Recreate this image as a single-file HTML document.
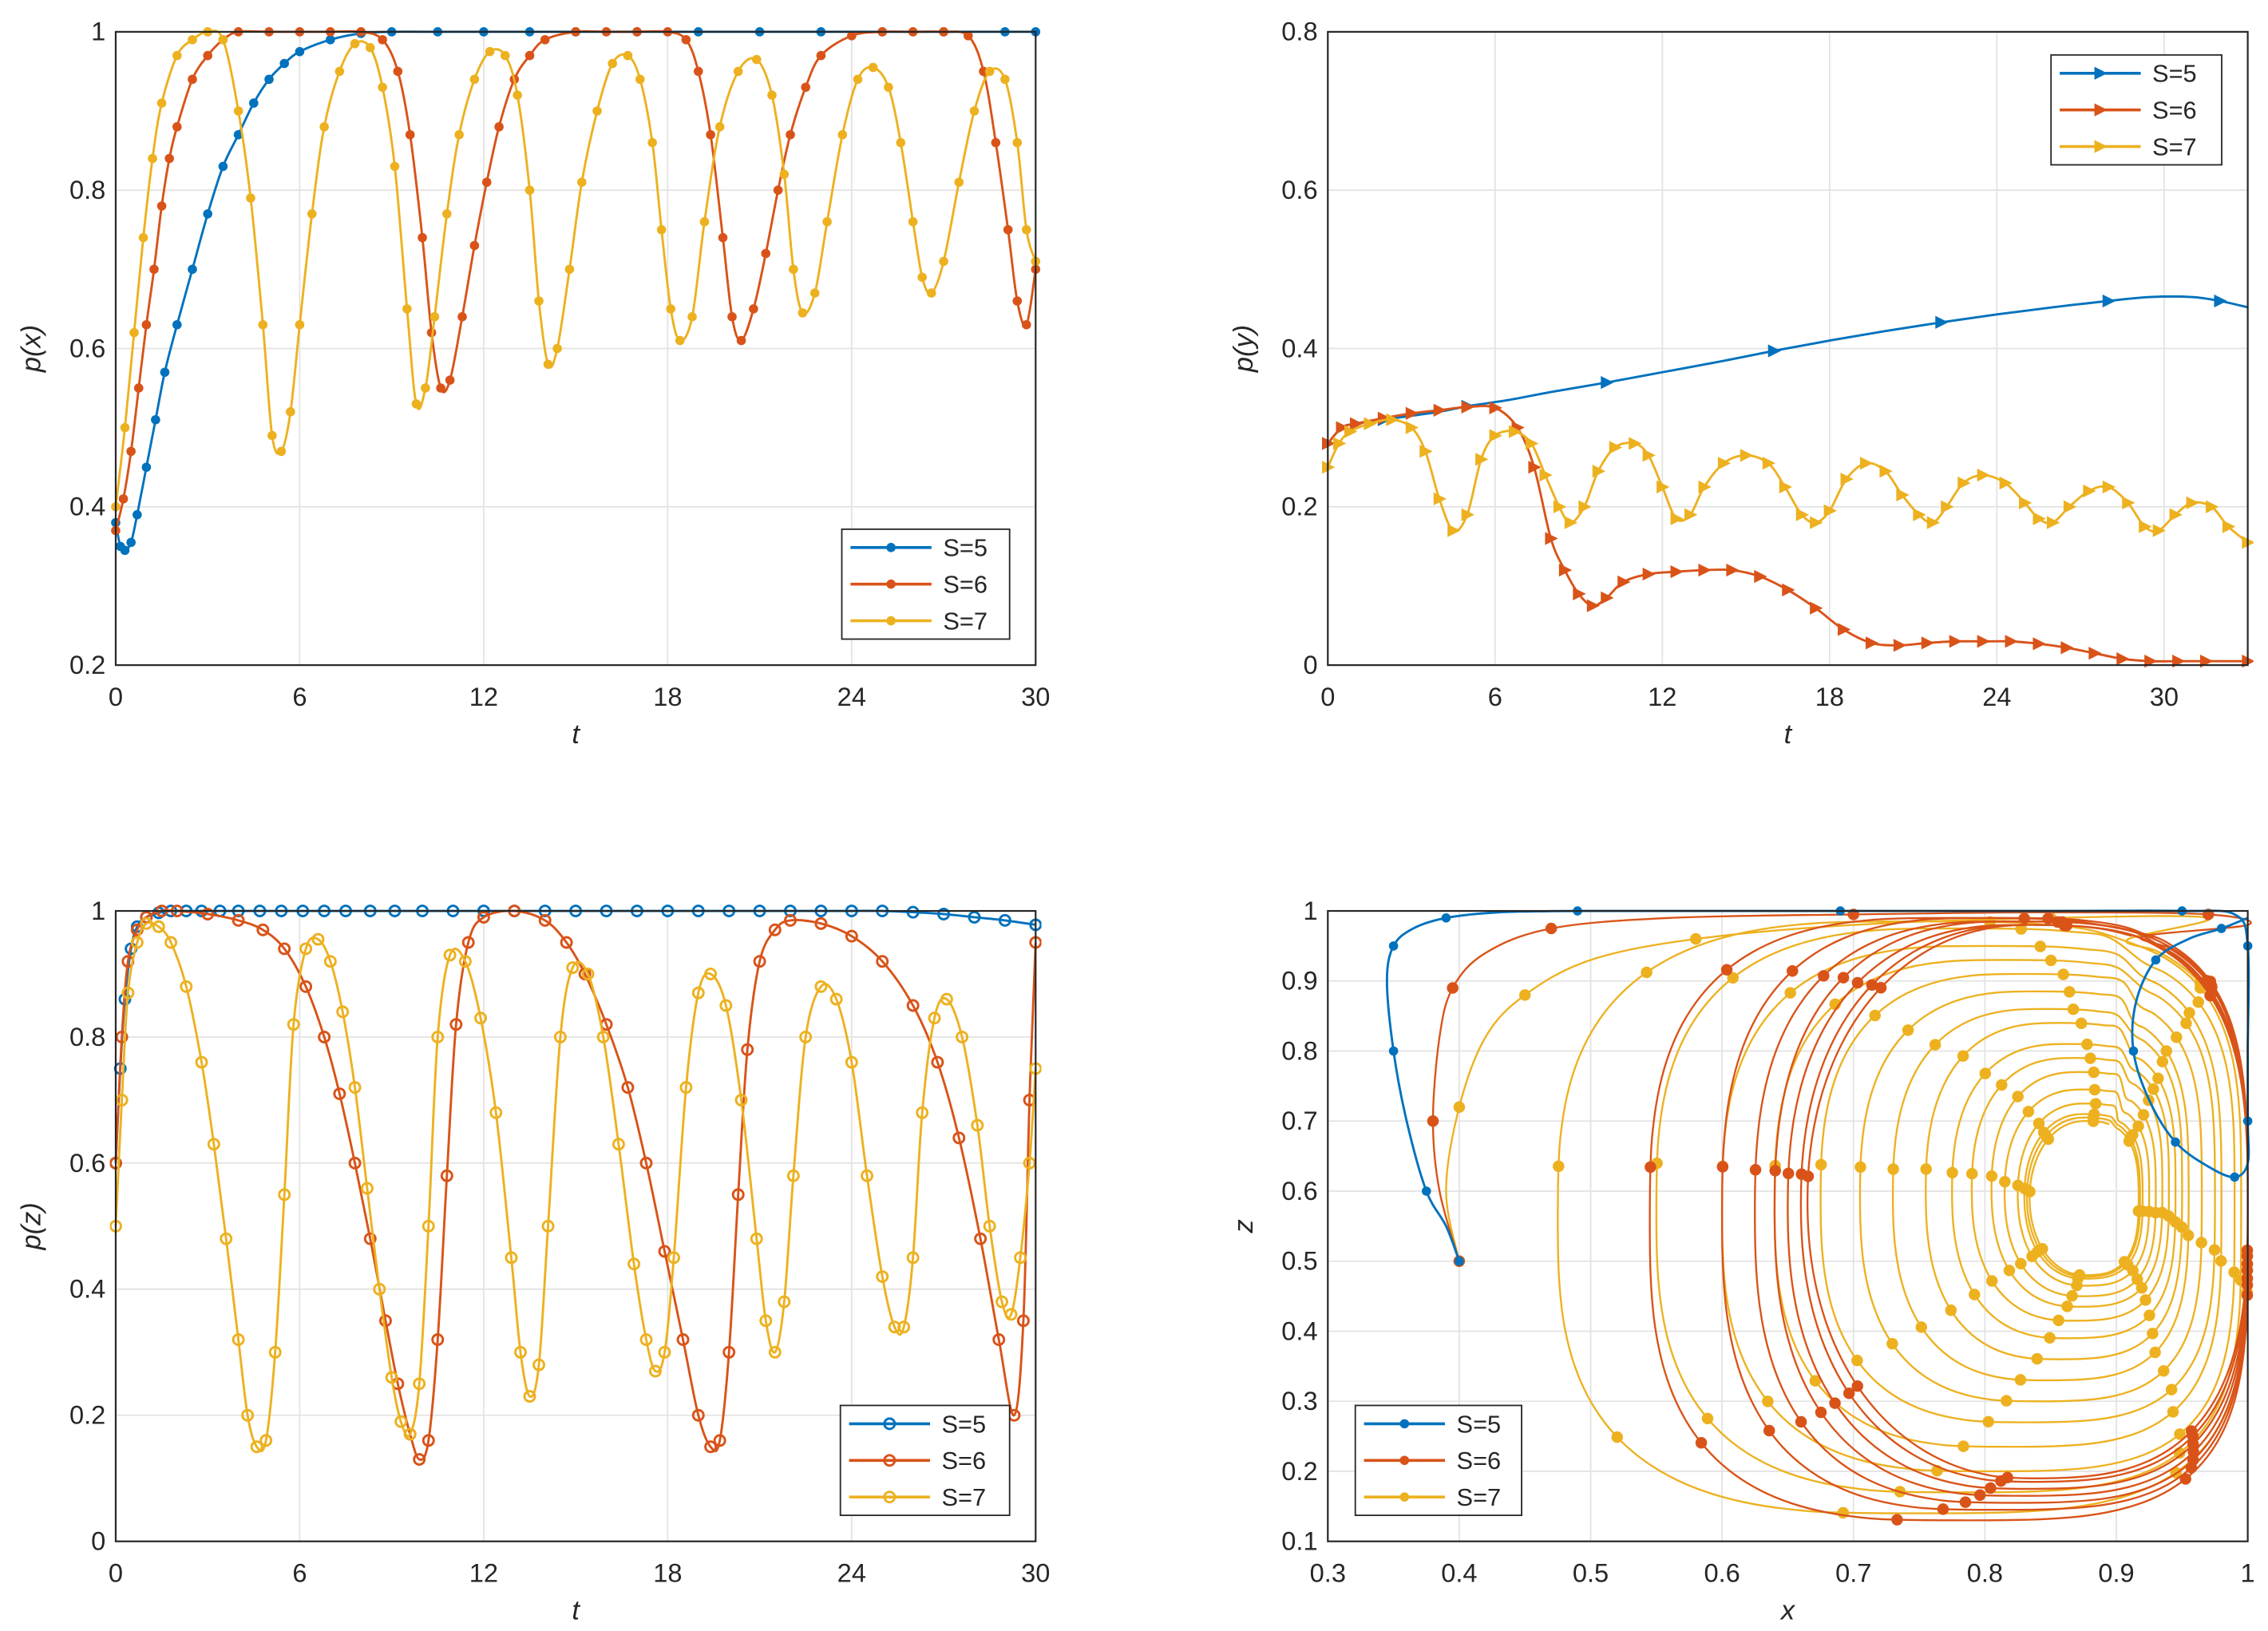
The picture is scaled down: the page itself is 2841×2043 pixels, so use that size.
<!DOCTYPE html>
<html><head><meta charset="utf-8">
<style>
html,body{margin:0;padding:0;background:#fff;}
svg{display:block;}
text{font-family:"Liberation Sans",sans-serif;fill:#262626;}
</style></head>
<body>
<svg id="fig" width="2841" height="2043" viewBox="0 0 1568 1128" preserveAspectRatio="none" xmlns="http://www.w3.org/2000/svg"></svg>
<script>
// ---------- DATA ----------
// Panel A: p(x) vs t
const aT5=[0,0.15,0.3,0.5,0.7,1,1.3,1.6,2,2.5,3,3.5,4,4.5,5,5.5,6,7,8,9,10.5,12,13.5,15,17,19,21,23,25,27,29,30];
const aP5=[0.38,0.35,0.345,0.355,0.39,0.45,0.51,0.57,0.63,0.7,0.77,0.83,0.87,0.91,0.94,0.96,0.975,0.99,0.998,1,1,1,1,1,1,1,1,1,1,1,1,1];
const aT6=[0,0.25,0.5,0.75,1,1.25,1.5,1.75,2,2.5,3,3.5,4,5,6,7,8,8.7,9.2,9.6,10,10.3,10.6,10.9,11.3,11.7,12.1,12.5,13,13.5,14,15,16,17,18,18.6,19,19.4,19.8,20.1,20.4,20.8,21.2,21.6,22,22.5,23,24,25,26,27,27.8,28.3,28.7,29.1,29.4,29.7,30];
const aP6=[0.37,0.41,0.47,0.55,0.63,0.7,0.78,0.84,0.88,0.94,0.97,0.99,1,1,1,1,1,0.99,0.95,0.87,0.74,0.62,0.55,0.56,0.64,0.73,0.81,0.88,0.94,0.97,0.99,1,1,1,1,0.99,0.95,0.87,0.74,0.64,0.61,0.65,0.72,0.8,0.87,0.93,0.97,0.995,1,1,1,0.995,0.95,0.86,0.75,0.66,0.63,0.7];
const aT7=[0,0.3,0.6,0.9,1.2,1.5,2,2.5,3,3.5,4,4.4,4.8,5.1,5.4,5.7,6,6.4,6.8,7.3,7.8,8.3,8.7,9.1,9.5,9.8,10.1,10.4,10.8,11.2,11.7,12.2,12.7,13.1,13.5,13.8,14.1,14.4,14.8,15.2,15.7,16.2,16.7,17.1,17.5,17.8,18.1,18.4,18.8,19.2,19.7,20.3,20.9,21.4,21.8,22.1,22.4,22.8,23.2,23.7,24.2,24.7,25.2,25.6,26,26.3,26.6,27,27.5,28,28.5,29,29.4,29.7,30];
const aP7=[0.4,0.5,0.62,0.74,0.84,0.91,0.97,0.99,1,0.99,0.9,0.79,0.63,0.49,0.47,0.52,0.63,0.77,0.88,0.95,0.985,0.98,0.93,0.83,0.65,0.53,0.55,0.64,0.77,0.87,0.94,0.975,0.97,0.92,0.8,0.66,0.58,0.6,0.7,0.81,0.9,0.96,0.97,0.94,0.86,0.75,0.65,0.61,0.64,0.76,0.88,0.95,0.965,0.92,0.82,0.7,0.645,0.67,0.76,0.87,0.94,0.955,0.93,0.86,0.76,0.69,0.67,0.71,0.81,0.9,0.95,0.94,0.86,0.75,0.71];
// Panel B: p(y) vs t
const bT5=[0,0.5,1,2,3,4,5,6.5,8,10,12,14,16,18,20,22,24,26,28,29.5,31,32,33];
const bP5=[0.28,0.3,0.305,0.31,0.315,0.32,0.327,0.335,0.345,0.357,0.37,0.383,0.397,0.41,0.422,0.433,0.443,0.452,0.46,0.465,0.465,0.46,0.452];
const bT6=[0,0.5,1,2,3,4,5,6,6.8,7.4,8,8.5,9,9.5,10,10.6,11.5,12.5,13.5,14.5,15.5,16.5,17.5,18.5,19.5,20.5,21.5,22.5,23.5,24.5,25.5,26.5,27.5,28.5,29.5,30.5,31.5,33];
const bP6=[0.28,0.3,0.305,0.312,0.318,0.322,0.326,0.325,0.3,0.25,0.16,0.12,0.09,0.075,0.085,0.105,0.115,0.118,0.12,0.12,0.112,0.095,0.072,0.045,0.028,0.025,0.028,0.03,0.03,0.03,0.027,0.022,0.015,0.008,0.005,0.005,0.005,0.005];
const bT7=[0,0.4,0.8,1.5,2.3,3,3.5,4,4.5,5,5.5,6,6.7,7.3,7.8,8.3,8.7,9.2,9.7,10.3,11,11.5,12,12.5,13,13.5,14.2,15,15.8,16.4,17,17.5,18,18.6,19.3,20,20.6,21.2,21.7,22.2,22.8,23.5,24.3,25,25.5,26,26.6,27.3,28,28.7,29.3,29.8,30.4,31,31.7,32.3,33];
const bP7=[0.25,0.28,0.295,0.305,0.31,0.3,0.27,0.21,0.17,0.19,0.26,0.29,0.295,0.28,0.24,0.2,0.18,0.2,0.245,0.275,0.28,0.265,0.225,0.185,0.19,0.225,0.255,0.265,0.255,0.225,0.19,0.18,0.195,0.235,0.255,0.245,0.215,0.19,0.18,0.2,0.23,0.24,0.23,0.205,0.185,0.18,0.2,0.22,0.225,0.205,0.175,0.17,0.19,0.205,0.2,0.175,0.155];
// Panel C: p(z) vs t
const cT5=[0,0.15,0.3,0.5,0.7,1,1.4,1.8,2.3,2.8,3.4,4,4.7,5.4,6.1,6.8,7.5,8.3,9.1,10,11,12,13,14,15,16,17,18,19,20,21,22,23,24,25,26,27,28,29,30];
const cP5=[0.6,0.75,0.86,0.94,0.975,0.99,0.997,1,1,1,1,1,1,1,1,1,1,1,1,1,1,1,1,1,1,1,1,1,1,1,1,1,1,1,1,0.998,0.995,0.99,0.985,0.978];
const cT6=[0,0.2,0.4,0.7,1,1.5,2,3,4,4.8,5.5,6.2,6.8,7.3,7.8,8.3,8.8,9.2,9.6,9.9,10.2,10.5,10.8,11.1,11.5,12,13,14,14.7,15.3,16,16.7,17.3,17.9,18.5,19,19.4,19.7,20,20.3,20.6,21,21.5,22,23,24,25,26,26.8,27.5,28.2,28.8,29.3,29.6,29.8,30];
const cP6=[0.6,0.8,0.92,0.97,0.99,1,1,0.995,0.985,0.97,0.94,0.88,0.8,0.71,0.6,0.48,0.35,0.25,0.17,0.13,0.16,0.32,0.58,0.82,0.95,0.99,1,0.985,0.95,0.9,0.82,0.72,0.6,0.46,0.32,0.2,0.15,0.16,0.3,0.55,0.78,0.92,0.97,0.985,0.98,0.96,0.92,0.85,0.76,0.64,0.48,0.32,0.2,0.35,0.7,0.95];
const cT7=[0,0.2,0.4,0.7,1,1.4,1.8,2.3,2.8,3.2,3.6,4,4.3,4.6,4.9,5.2,5.5,5.8,6.2,6.6,7,7.4,7.8,8.2,8.6,9,9.3,9.6,9.9,10.2,10.5,10.9,11.4,11.9,12.4,12.9,13.2,13.5,13.8,14.1,14.5,14.9,15.4,15.9,16.4,16.9,17.3,17.6,17.9,18.2,18.6,19,19.4,19.9,20.4,20.9,21.2,21.5,21.8,22.1,22.5,23,23.5,24,24.5,25,25.4,25.7,26,26.3,26.7,27.1,27.6,28.1,28.5,28.9,29.2,29.5,29.8,30];
const cP7=[0.5,0.7,0.87,0.95,0.98,0.975,0.95,0.88,0.76,0.63,0.48,0.32,0.2,0.15,0.16,0.3,0.55,0.82,0.94,0.955,0.92,0.84,0.72,0.56,0.4,0.26,0.19,0.17,0.25,0.5,0.8,0.93,0.92,0.83,0.68,0.45,0.3,0.23,0.28,0.5,0.8,0.91,0.9,0.8,0.63,0.44,0.32,0.27,0.3,0.45,0.72,0.87,0.9,0.85,0.7,0.48,0.35,0.3,0.38,0.58,0.8,0.88,0.86,0.76,0.58,0.42,0.34,0.34,0.45,0.68,0.83,0.86,0.8,0.66,0.5,0.38,0.36,0.45,0.6,0.75];
// Panel D: phase plot z vs x
const dX5=[0.4,0.39,0.375,0.36,0.35,0.345,0.35,0.365,0.39,0.43,0.49,0.57,0.69,0.85,0.95,0.99,1,1,1,1,0.99,0.97,0.945,0.925,0.913,0.915,0.93,0.955,0.98,1];
const dZ5=[0.5,0.55,0.6,0.7,0.8,0.9,0.95,0.975,0.99,0.998,1,1,1,1,1,0.995,0.95,0.8,0.7,0.64,0.62,0.635,0.67,0.73,0.8,0.87,0.93,0.96,0.975,0.99];
const dX6start=[0.4,0.385,0.38,0.385,0.395,0.42,0.47,0.56,0.7,0.85,0.97,1];
const dZ6start=[0.5,0.6,0.7,0.82,0.89,0.94,0.975,0.99,0.995,0.998,0.995,0.98];
const d6Left=[0.545,0.6,0.625,0.64,0.65,0.66,0.665];
const d6Right=[1,1,1,1,1,1,1];
const d6Top=[0.99,0.99,0.985,0.985,0.98,0.98,0.98];
const d6Bottom=[0.13,0.145,0.155,0.165,0.175,0.185,0.19];
const dX7start=[0.4,0.39,0.4,0.42,0.45,0.5,0.58,0.7,0.85,0.97];
const dZ7start=[0.5,0.6,0.72,0.82,0.88,0.93,0.96,0.98,0.99,0.99];
const d7Left=[0.475,0.55,0.6,0.64,0.675,0.705,0.73,0.755,0.775,0.79,0.805,0.815,0.825,0.83,0.832,0.834];
const d7Right=[1,0.995,0.99,0.98,0.975,0.965,0.955,0.95,0.945,0.94,0.935,0.93,0.925,0.92,0.918,0.917];
const d7Top=[0.985,0.975,0.95,0.93,0.91,0.885,0.86,0.84,0.81,0.79,0.77,0.745,0.725,0.71,0.705,0.7];
const d7Bottom=[0.14,0.17,0.2,0.235,0.27,0.3,0.33,0.36,0.39,0.415,0.435,0.45,0.465,0.475,0.478,0.48];

// ---------- DRAWING ----------
const NS='http://www.w3.org/2000/svg';
const svg=document.getElementById('fig');
const C5='#0072BD',C6='#D95319',C7='#EDB120';
function mk(tag,attrs,parent){const e=document.createElementNS(NS,tag);for(const k in attrs)e.setAttribute(k,attrs[k]);(parent||svg).appendChild(e);return e;}
function smooth(pts){
  if(pts.length<2)return '';
  let d='M'+pts[0][0].toFixed(2)+','+pts[0][1].toFixed(2);
  for(let i=0;i<pts.length-1;i++){
    const p0=pts[Math.max(0,i-1)],p1=pts[i],p2=pts[i+1],p3=pts[Math.min(pts.length-1,i+2)];
    const c1=[p1[0]+(p2[0]-p0[0])/6,p1[1]+(p2[1]-p0[1])/6];
    const c2=[p2[0]-(p3[0]-p1[0])/6,p2[1]-(p3[1]-p1[1])/6];
    d+='C'+c1[0].toFixed(2)+','+c1[1].toFixed(2)+' '+c2[0].toFixed(2)+','+c2[1].toFixed(2)+' '+p2[0].toFixed(2)+','+p2[1].toFixed(2);
  }
  return d;
}
let clipId=0;
function panel(name,box,xd,yd,xt,yt,xlab,ylab){
  const g=mk('g',{});
  
  
  const sx=v=>box.l+(v-xd[0])/(xd[1]-xd[0])*(box.r-box.l);
  const sy=v=>box.b-(v-yd[0])/(yd[1]-yd[0])*(box.b-box.t);
  mk('rect',{x:box.l,y:box.t,width:box.r-box.l,height:box.b-box.t,fill:'#fff'},g);
  const grid=mk('g',{stroke:'#e3e3e3','stroke-width':1},g);
  
  
  xt.forEach(v=>{mk('line',{x1:sx(v),x2:sx(v),y1:box.t,y2:box.b},grid);});
  yt.forEach(v=>{mk('line',{y1:sy(v),y2:sy(v),x1:box.l,x2:box.r},grid);});
  xt.forEach(v=>{const t=mk('text',{x:sx(v),y:box.b+28,'font-size':18,'text-anchor':'middle'},g);t.textContent=String(v);
    });
  yt.forEach(v=>{const t=mk('text',{x:box.l-7,y:sy(v)+6,'font-size':18,'text-anchor':'end'},g);t.textContent=String(v);
    });
  const xl=mk('text',{x:(box.l+box.r)/2,y:box.b+54,'font-size':19,'text-anchor':'middle','font-style':'italic','font-family':'Liberation Serif, serif'},g);
  xl.textContent=xlab;
  const yl=mk('text',{x:0,y:0,'font-size':19,'text-anchor':'middle','font-style':'italic','font-family':'Liberation Serif, serif',transform:'translate('+(box.l-52)+','+((box.t+box.b)/2)+') rotate(-90)'},g);
  yl.textContent=ylab;
  clipId++;
  const cp=mk('clipPath',{id:'cp'+clipId},g);
  mk('rect',{x:box.l-4,y:box.t-6,width:box.r-box.l+8,height:box.b-box.t+10},cp);
  const plot=mk('g',{'clip-path':'url(#cp'+clipId+')'},g);
  return {g,plot,sx,sy,box};
}
function frame(P){
  const b=P.box;
  const f=mk('rect',{x:b.l,y:b.t,width:b.r-b.l,height:b.b-b.t,fill:'none',stroke:'#262626','stroke-width':1.2},P.g);
  
}
function marker(parent,type,x,y,color){
  if(type==='dot')return mk('circle',{cx:x,cy:y,r:3.2,fill:color},parent);
  if(type==='ring')return mk('circle',{cx:x,cy:y,r:3.6,fill:'none',stroke:color,'stroke-width':1.6},parent);
  if(type==='tri')return mk('path',{d:'M'+(x+5)+','+y+'L'+(x-4)+','+(y-4.5)+'L'+(x-4)+','+(y+4.5)+'Z',fill:color},parent);
  return mk('circle',{cx:x,cy:y,r:3,fill:color},parent);
}
function series(P,name,xs,ys,color,mtype,everyN){
  const g=mk('g',{},P.plot);
  
  
  const pts=xs.map((x,i)=>[P.sx(x),P.sy(ys[i])]);
  mk('path',{d:smooth(pts),fill:'none',stroke:color,'stroke-width':1.6},g);
  pts.forEach((p,i)=>{if(i%(everyN||1)===0){const m=marker(g,mtype,p[0],p[1],color);
    }});
}
function loops(P,name,startX,startZ,L,R,T,B,color){
  const g=mk('g',{},P.plot);
  
  
  let pts=startX.map((x,i)=>[P.sx(x),P.sy(startZ[i])]);
  const mk_pts=[];
  for(let k=0;k<L.length;k++){
    const cx=(L[k]+R[k])/2,cz=(T[k]+B[k])/2,rx=(R[k]-L[k])/2,rz=(T[k]-B[k])/2;
    const n=2.0+0.9*(1-k/L.length);
    const N=48;
    for(let j=0;j<N;j++){
      const a=Math.PI*0.35-j/N*2*Math.PI;
      const c=Math.cos(a),s=Math.sin(a);
      // sharper on the right side, rounder on the left
      const nn=c>0?n+0.8:n;
      const x=cx+rx*Math.sign(c)*Math.pow(Math.abs(c),2/nn);
      const z=cz+rz*Math.sign(s)*Math.pow(Math.abs(s),2/nn);
      pts.push([P.sx(x),P.sy(z)]);
      if(j%6===3)mk_pts.push([P.sx(x),P.sy(z)]);
    }
  }
  mk('path',{d:smooth(pts),fill:'none',stroke:color,'stroke-width':1.3},g);
  startX.forEach((x,i)=>{if(i%2===0)mk_pts.push([P.sx(x),P.sy(startZ[i])]);});
  mk_pts.forEach(p=>{const m=marker(g,'ring',p[0],p[1],color);m.setAttribute('fill',color);m.setAttribute('r',3.2);
    });
}
function legend(P,name,x,y,w,h,mtype){
  const g=mk('g',{},P.g);
  
  
  mk('rect',{x:x,y:y,width:w,height:h,fill:'#fff',stroke:'#262626','stroke-width':1},g);
  [['S=5',C5],['S=6',C6],['S=7',C7]].forEach((e,i)=>{
    const yy=y+h*(i+0.5)/3;
    const eg=mk('g',{},g);
    
    
    mk('line',{x1:x+6,x2:x+62,y1:yy,y2:yy,stroke:e[1],'stroke-width':2},eg);
    marker(eg,mtype,x+34,yy,e[1]);
    const t=mk('text',{x:x+70,y:yy+6,'font-size':17},eg);t.textContent=e[0];
  });
}
// Panel A
const A=panel('panel-px',{l:80,r:716,t:22,b:460},[0,30],[0.2,1],[0,6,12,18,24,30],[0.2,0.4,0.6,0.8,1],'t','p(x)');
series(A,'series-s5',aT5,aP5,C5,'dot');
series(A,'series-s6',aT6,aP6,C6,'dot');
series(A,'series-s7',aT7,aP7,C7,'dot');
frame(A);legend(A,'legend',582,366,116,76,'dot');
// Panel B
const B=panel('panel-py',{l:918,r:1554,t:22,b:460},[0,33],[0,0.8],[0,6,12,18,24,30],[0,0.2,0.4,0.6,0.8],'t','p(y)');
series(B,'series-s5',bT5,bP5,C5,'tri',3);
series(B,'series-s6',bT6,bP6,C6,'tri');
series(B,'series-s7',bT7,bP7,C7,'tri');
frame(B);legend(B,'legend',1418,38,118,76,'tri');
// Panel C
const Cp=panel('panel-pz',{l:80,r:716,t:630,b:1066},[0,30],[0,1],[0,6,12,18,24,30],[0,0.2,0.4,0.6,0.8,1],'t','p(z)');
series(Cp,'series-s5',cT5,cP5,C5,'ring');
series(Cp,'series-s6',cT6,cP6,C6,'ring');
series(Cp,'series-s7',cT7,cP7,C7,'ring');
frame(Cp);legend(Cp,'legend',581,972,117,76,'ring');
// Panel D
const D=panel('panel-phase-xz',{l:918,r:1554,t:630,b:1066},[0.3,1],[0.1,1],[0.3,0.4,0.5,0.6,0.7,0.8,0.9,1],[0.1,0.2,0.3,0.4,0.5,0.6,0.7,0.8,0.9,1],'x','z');
loops(D,'series-s7',dX7start,dZ7start,d7Left,d7Right,d7Top,d7Bottom,C7);
loops(D,'series-s6',dX6start,dZ6start,d6Left,d6Right,d6Top,d6Bottom,C6);
series(D,'series-s5',dX5,dZ5,C5,'dot',2);
frame(D);legend(D,'legend',937,972,115,76,'dot');
</script>
</body></html>
